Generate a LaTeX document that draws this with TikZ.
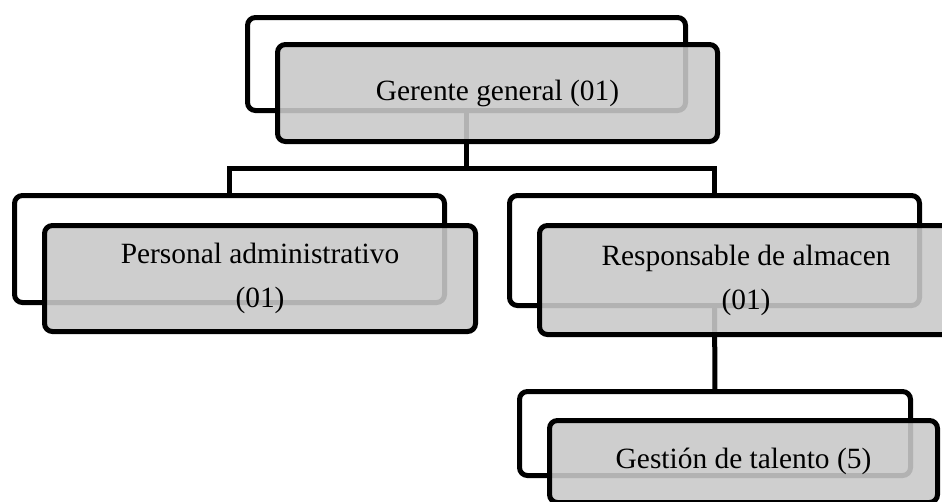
\documentclass[tikz,border=0pt]{standalone}
\usepackage{fontspec}
\setmainfont{Liberation Serif}
\begin{document}
\begin{tikzpicture}[x=1pt,y=-1pt,
  backbox/.style={draw=black, line width=5pt, rounded corners=8pt, fill=white,
    minimum width=#1, inner sep=0pt, outer sep=0pt},
  frontbox/.style={draw=black, line width=5pt, rounded corners=8pt,
    fill=black!21, fill opacity=0.89, draw opacity=1, text opacity=1,
    minimum width=#1, inner sep=0pt, outer sep=0pt, align=center,
    font=\fontsize{29.4}{44}\selectfont},
  link/.style={draw=black, line width=5pt}]
\useasboundingbox (0,0) rectangle (942,501);

% back frames
\node[backbox=438pt, minimum height=93pt]  (gback) at (466.5,64)  {};
\node[backbox=430pt, minimum height=107pt] (pback) at (229.5,249) {};
\node[backbox=410pt, minimum height=110pt] (rback) at (714.5,250.5) {};
\node[backbox=391pt, minimum height=84pt]  (tback) at (715,433.5) {};

% connectors
\coordinate (junction) at (466.5,168);
\draw[link] (gback.south) -- (junction);
\draw[link] (pback.north) -- (pback.north |- junction) -- (rback.north |- junction) -- (rback.north);
\draw[link] (rback.south) -- (tback.north);

% front cards with labels
\node[frontbox=440pt, minimum height=97pt]  (gfront) at (497.5,93)  {Gerente general (01)};
\node[frontbox=431pt, minimum height=106pt] (pfront) at (260,278.5) {Personal administrativo\\(01)};
\node[frontbox=413pt, minimum height=109pt] (rfront) at (746,280)   {Responsable de almacen\\(01)};
\node[frontbox=388pt, minimum height=82pt]  (tfront) at (743.5,461.5) {Gestión de talento (5)};
\end{tikzpicture}
\end{document}
